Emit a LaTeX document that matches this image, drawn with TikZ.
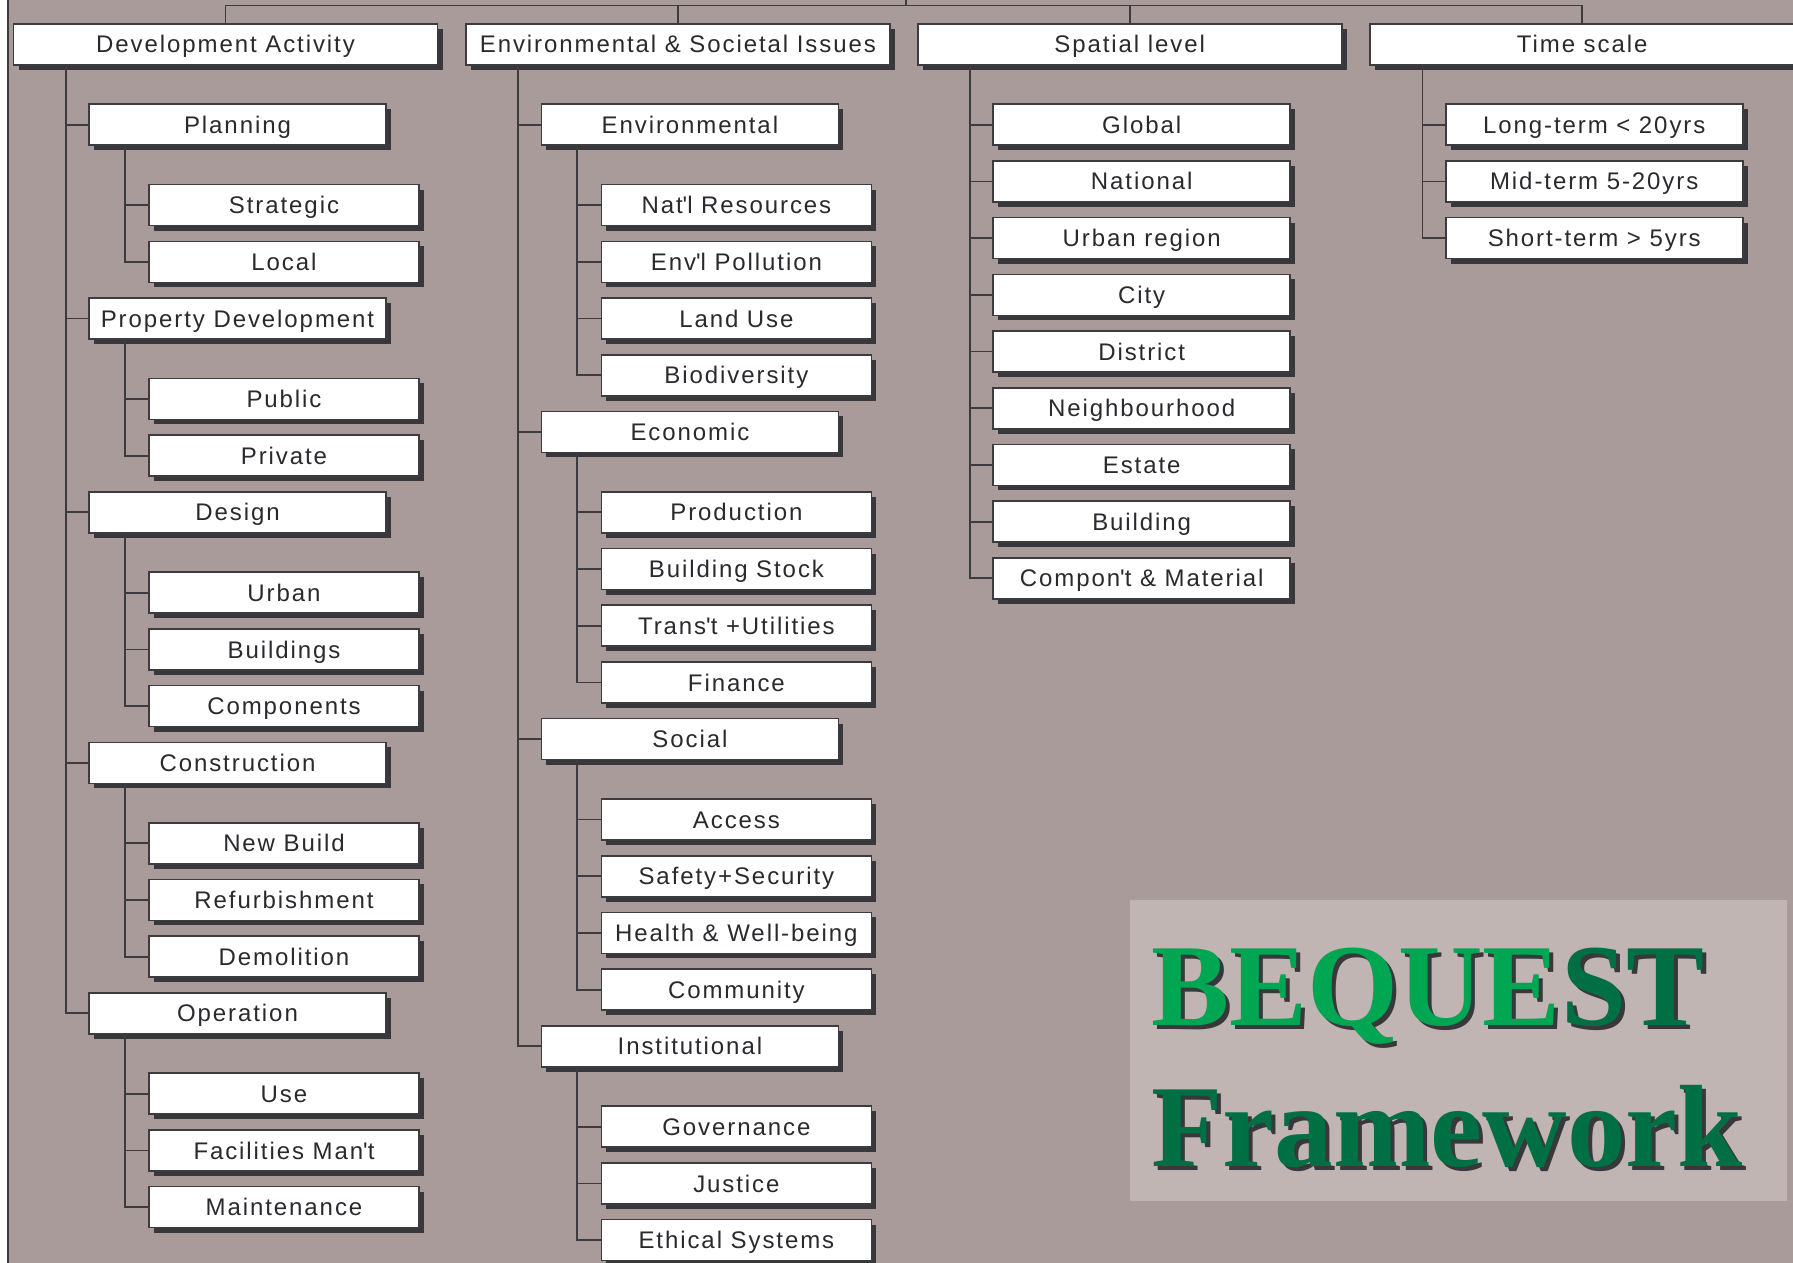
\documentclass[tikz,border=0pt]{standalone}
\usepackage{fontspec}
\setmainfont{Liberation Sans}[LetterSpace=8]
\newfontfamily\titlefont{Liberation Serif}
\usetikzlibrary{positioning}
\usetikzlibrary{shadows}

\definecolor{bggray}{RGB}{168,155,153}
\definecolor{panelgray}{RGB}{192,181,178}
\definecolor{boxline}{RGB}{60,60,64}
\definecolor{boxshadow}{RGB}{56,56,60}
\definecolor{boxtext}{RGB}{42,42,46}
\definecolor{titlelight}{RGB}{0,166,81}
\definecolor{titledark}{RGB}{0,111,67}

\newcommand{\shadowtitle}[2]{\makebox[0pt][l]{\kern2pt\raisebox{-2pt}{\color{boxshadow}#1}}#2}

\tikzstyle{basebox} = [rectangle, minimum height=20.5pt, inner sep=0pt, text centered, text height=8.6pt, text depth=0pt, draw=boxline, line width=0.8pt, fill=white, text=boxtext, font=\fontsize{12pt}{14pt}\selectfont, drop shadow={shadow xshift=2.5pt, shadow yshift=-2.5pt, opacity=1, fill=boxshadow}]
\tikzstyle{topbox} = [basebox, minimum width=212pt]
\tikzstyle{groupbox} = [basebox, minimum width=148.5pt]
\tikzstyle{itembox} = [basebox, minimum width=135pt]
\tikzstyle{link} = [draw=boxline, line width=0.9pt]
\tikzstyle{title} = [anchor=base west, inner sep=0pt, font=\titlefont\bfseries\fontsize{58.5pt}{60pt}\selectfont]

\begin{document}
\begin{tikzpicture}[node distance=28.35pt]

  % page and background
  \useasboundingbox (0,0) rectangle (896.5pt,-631.5pt);
  \fill [bggray] (4pt,0) rectangle (896.5pt,-631.5pt);
  \draw [boxline, line width=0.7pt] (4pt,0) -- (4pt,-631.5pt);
  \fill [panelgray] (565pt,-450pt) rectangle (893.5pt,-600.35pt);

  % Development Activity
  \node (da) [topbox] at (112.75pt,-22.15pt) {Development Activity};
  \node (planning) [groupbox, below of=da, xshift=6pt, yshift=-11.85pt] {Planning};
  \node (strategic) [itembox, below of=planning, xshift=23.25pt, yshift=-11.85pt] {Strategic};
  \node (local) [itembox, below of=strategic] {Local};
  \node (propdev) [groupbox, below of=local, xshift=-23.25pt] {Property Development};
  \node (public) [itembox, below of=propdev, xshift=23.25pt, yshift=-11.85pt] {Public};
  \node (private) [itembox, below of=public] {Private};
  \node (design) [groupbox, below of=private, xshift=-23.25pt] {Design};
  \node (urban) [itembox, below of=design, xshift=23.25pt, yshift=-11.85pt] {Urban};
  \node (buildings) [itembox, below of=urban] {Buildings};
  \node (components) [itembox, below of=buildings] {Components};
  \node (construction) [groupbox, below of=components, xshift=-23.25pt] {Construction};
  \node (newbuild) [itembox, below of=construction, xshift=23.25pt, yshift=-11.85pt] {New Build};
  \node (refurb) [itembox, below of=newbuild] {Refurbishment};
  \node (demolition) [itembox, below of=refurb] {Demolition};
  \node (operation) [groupbox, below of=demolition, xshift=-23.25pt] {Operation};
  \node (use) [itembox, below of=operation, xshift=23.25pt, yshift=-11.85pt] {Use};
  \node (facilities) [itembox, below of=use] {Facilities Man\textquotesingle t};
  \node (maintenance) [itembox, below of=facilities] {Maintenance};

  % Environmental & Societal Issues
  \node (es) [topbox] at (338.95pt,-22.15pt) {Environmental \& Societal Issues};
  \node (environmental) [groupbox, below of=es, xshift=6pt, yshift=-11.85pt] {Environmental};
  \node (resources) [itembox, below of=environmental, xshift=23.25pt, yshift=-11.85pt] {Nat\textquotesingle l Resources};
  \node (pollution) [itembox, below of=resources] {Env\textquotesingle l Pollution};
  \node (landuse) [itembox, below of=pollution] {Land Use};
  \node (biodiversity) [itembox, below of=landuse] {Biodiversity};
  \node (economic) [groupbox, below of=biodiversity, xshift=-23.25pt] {Economic};
  \node (production) [itembox, below of=economic, xshift=23.25pt, yshift=-11.85pt] {Production};
  \node (stock) [itembox, below of=production] {Building Stock};
  \node (transport) [itembox, below of=stock] {Trans\textquotesingle t +Utilities};
  \node (finance) [itembox, below of=transport] {Finance};
  \node (social) [groupbox, below of=finance, xshift=-23.25pt] {Social};
  \node (access) [itembox, below of=social, xshift=23.25pt, yshift=-11.85pt] {Access};
  \node (safety) [itembox, below of=access] {Safety+Security};
  \node (health) [itembox, below of=safety] {Health \& Well-being};
  \node (community) [itembox, below of=health] {Community};
  \node (institutional) [groupbox, below of=community, xshift=-23.25pt] {Institutional};
  \node (governance) [itembox, below of=institutional, xshift=23.25pt, yshift=-11.85pt] {Governance};
  \node (justice) [itembox, below of=governance] {Justice};
  \node (ethical) [itembox, below of=justice] {Ethical Systems};

  % Spatial level
  \node (sl) [topbox] at (564.85pt,-22.15pt) {Spatial level};
  \node (global) [groupbox, below of=sl, xshift=6pt, yshift=-11.85pt] {Global};
  \node (national) [groupbox, below of=global] {National};
  \node (urbanregion) [groupbox, below of=national] {Urban region};
  \node (city) [groupbox, below of=urbanregion] {City};
  \node (district) [groupbox, below of=city] {District};
  \node (neighbourhood) [groupbox, below of=district] {Neighbourhood};
  \node (estate) [groupbox, below of=neighbourhood] {Estate};
  \node (building) [groupbox, below of=estate] {Building};
  \node (material) [groupbox, below of=building] {Compon\textquotesingle t \& Material};

  % Time scale
  \node (ts) [topbox] at (791.1pt,-22.15pt) {Time scale};
  \node (longterm) [groupbox, below of=ts, xshift=6pt, yshift=-11.85pt] {Long-term < 20yrs};
  \node (midterm) [groupbox, below of=longterm] {Mid-term 5-20yrs};
  \node (shortterm) [groupbox, below of=midterm] {Short-term > 5yrs};

  % bar over the four headings
  \coordinate (root) at (453pt,0pt);
  \draw [link] (root) -- ++(0,-2.75pt) coordinate (bar);
  \draw [link] (da.north) |- (bar) -| (ts.north);
  \draw [link] (es.north) -- (es.north |- bar);
  \draw [link] (sl.north) -- (sl.north |- bar);

  % Development Activity tree
  \draw [link] ([xshift=26.5pt]da.south west) |- (planning.west);
  \draw [link] ([xshift=26.5pt]da.south west) |- (propdev.west);
  \draw [link] ([xshift=26.5pt]da.south west) |- (design.west);
  \draw [link] ([xshift=26.5pt]da.south west) |- (construction.west);
  \draw [link] ([xshift=26.5pt]da.south west) |- (operation.west);
  \draw [link] ([xshift=18.35pt]planning.south west) |- (strategic.west);
  \draw [link] ([xshift=18.35pt]planning.south west) |- (local.west);
  \draw [link] ([xshift=18.35pt]propdev.south west) |- (public.west);
  \draw [link] ([xshift=18.35pt]propdev.south west) |- (private.west);
  \draw [link] ([xshift=18.35pt]design.south west) |- (urban.west);
  \draw [link] ([xshift=18.35pt]design.south west) |- (buildings.west);
  \draw [link] ([xshift=18.35pt]design.south west) |- (components.west);
  \draw [link] ([xshift=18.35pt]construction.south west) |- (newbuild.west);
  \draw [link] ([xshift=18.35pt]construction.south west) |- (refurb.west);
  \draw [link] ([xshift=18.35pt]construction.south west) |- (demolition.west);
  \draw [link] ([xshift=18.35pt]operation.south west) |- (use.west);
  \draw [link] ([xshift=18.35pt]operation.south west) |- (facilities.west);
  \draw [link] ([xshift=18.35pt]operation.south west) |- (maintenance.west);

  % Environmental & Societal Issues tree
  \draw [link] ([xshift=26.5pt]es.south west) |- (environmental.west);
  \draw [link] ([xshift=26.5pt]es.south west) |- (economic.west);
  \draw [link] ([xshift=26.5pt]es.south west) |- (social.west);
  \draw [link] ([xshift=26.5pt]es.south west) |- (institutional.west);
  \draw [link] ([xshift=18.35pt]environmental.south west) |- (resources.west);
  \draw [link] ([xshift=18.35pt]environmental.south west) |- (pollution.west);
  \draw [link] ([xshift=18.35pt]environmental.south west) |- (landuse.west);
  \draw [link] ([xshift=18.35pt]environmental.south west) |- (biodiversity.west);
  \draw [link] ([xshift=18.35pt]economic.south west) |- (production.west);
  \draw [link] ([xshift=18.35pt]economic.south west) |- (stock.west);
  \draw [link] ([xshift=18.35pt]economic.south west) |- (transport.west);
  \draw [link] ([xshift=18.35pt]economic.south west) |- (finance.west);
  \draw [link] ([xshift=18.35pt]social.south west) |- (access.west);
  \draw [link] ([xshift=18.35pt]social.south west) |- (safety.west);
  \draw [link] ([xshift=18.35pt]social.south west) |- (health.west);
  \draw [link] ([xshift=18.35pt]social.south west) |- (community.west);
  \draw [link] ([xshift=18.35pt]institutional.south west) |- (governance.west);
  \draw [link] ([xshift=18.35pt]institutional.south west) |- (justice.west);
  \draw [link] ([xshift=18.35pt]institutional.south west) |- (ethical.west);

  % Spatial level tree
  \draw [link] ([xshift=26.5pt]sl.south west) |- (global.west);
  \draw [link] ([xshift=26.5pt]sl.south west) |- (national.west);
  \draw [link] ([xshift=26.5pt]sl.south west) |- (urbanregion.west);
  \draw [link] ([xshift=26.5pt]sl.south west) |- (city.west);
  \draw [link] ([xshift=26.5pt]sl.south west) |- (district.west);
  \draw [link] ([xshift=26.5pt]sl.south west) |- (neighbourhood.west);
  \draw [link] ([xshift=26.5pt]sl.south west) |- (estate.west);
  \draw [link] ([xshift=26.5pt]sl.south west) |- (building.west);
  \draw [link] ([xshift=26.5pt]sl.south west) |- (material.west);

  % Time scale tree
  \draw [link] ([xshift=26.5pt]ts.south west) |- (longterm.west);
  \draw [link] ([xshift=26.5pt]ts.south west) |- (midterm.west);
  \draw [link] ([xshift=26.5pt]ts.south west) |- (shortterm.west);

  % title
  \node (bequest) [title] at (575.5pt,-512.9pt) {\shadowtitle{BEQUEST}{\textcolor{titlelight}{BEQUE}\textcolor{titledark}{ST}}};
  \node (framework) [title] at (575.5pt,-583pt) {\shadowtitle{Framework}{\textcolor{titledark}{Framework}}};

\end{tikzpicture}
\end{document}
